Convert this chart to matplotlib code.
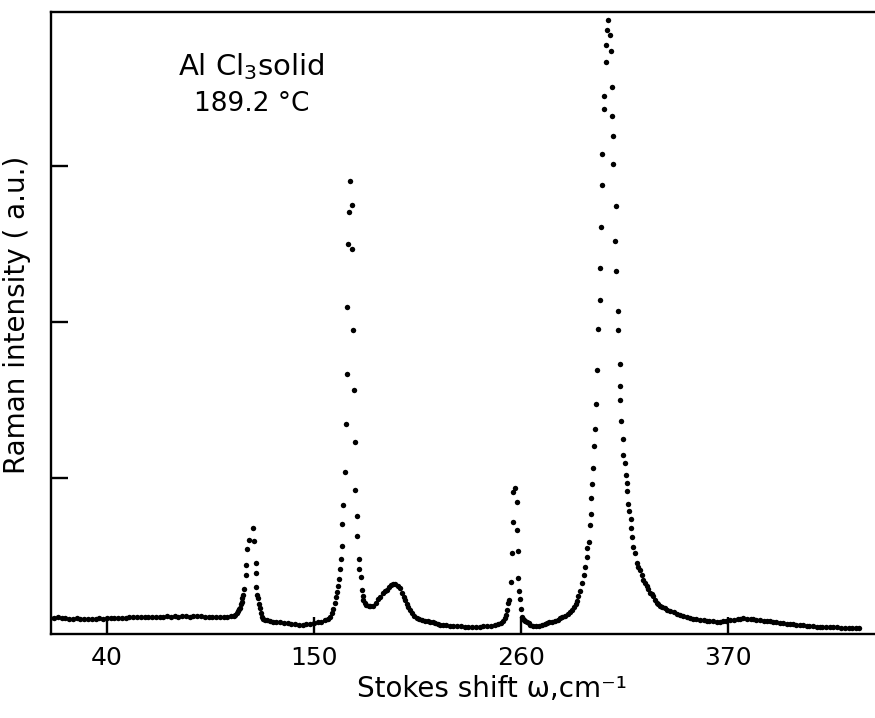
import matplotlib
matplotlib.use("Agg")
import matplotlib.pyplot as plt

# Raman spectrum of solid AlCl3 at 189.2 C
# (shift in cm^-1, intensity in arbitrary units)
baseline_left = [
    (10, 0.105), (12, 0.104), (14, 0.106), (16, 0.103), (18, 0.101),
    (20, 0.099), (22, 0.097), (24, 0.100), (26, 0.098), (28, 0.099),
    (30, 0.097), (32, 0.099), (34, 0.098), (36, 0.100), (38, 0.099),
    (40, 0.101), (42, 0.100), (44, 0.103), (46, 0.104), (48, 0.102),
    (50, 0.104), (52, 0.106), (54, 0.107), (56, 0.108), (58, 0.106),
    (60, 0.109), (62, 0.110), (64, 0.111), (66, 0.109), (68, 0.112),
    (70, 0.110), (72, 0.113), (74, 0.111), (76, 0.114), (78, 0.112),
    (80, 0.113), (82, 0.115), (84, 0.112), (86, 0.114), (88, 0.113),
    (90, 0.115), (92, 0.112), (94, 0.110), (96, 0.111), (98, 0.109),
    (100, 0.110), (102, 0.108), (104, 0.110), (106, 0.114),
]

peak_117 = [
    (107.5, 0.118), (108.3, 0.125), (108.9, 0.132), (109.6, 0.145),
    (110.2, 0.158), (110.7, 0.168), (111.2, 0.190), (111.6, 0.207),
    (112.0, 0.228), (112.4, 0.250), (112.8, 0.288), (113.7, 0.378),
    (113.9, 0.442), (114.5, 0.543), (115.6, 0.603), (117.4, 0.681),
    (118.1, 0.596), (119.0, 0.457), (119.2, 0.393), (119.3, 0.299),
    (120.0, 0.250), (120.4, 0.229), (120.9, 0.195), (121.3, 0.165),
    (121.7, 0.135), (122.2, 0.111), (123.0, 0.098), (124.0, 0.090),
]

valley_140 = [
    (125.0, 0.087), (126.5, 0.084), (128, 0.080), (130, 0.077),
    (132, 0.074), (134, 0.071), (136, 0.068), (138, 0.066), (140, 0.063),
    (142, 0.059), (144, 0.058), (146, 0.061), (148, 0.066), (150, 0.070),
    (152, 0.075), (154, 0.080), (156, 0.088), (157.5, 0.098), (158.5, 0.111),
]

peak_169 = [
    (159.4, 0.133), (160.2, 0.160), (161.1, 0.197), (161.6, 0.235),
    (162.0, 0.271), (162.9, 0.308), (163.4, 0.350), (164.1, 0.415),
    (164.5, 0.479), (164.9, 0.564), (164.9, 0.703), (165.6, 0.827),
    (166.6, 1.040), (167.0, 1.346), (167.3, 1.671), (167.7, 2.098),
    (168.2, 2.500), (168.7, 2.707), (169.1, 2.906), (170.0, 2.750),
    (170.3, 2.470), (170.7, 1.953), (171.2, 1.564), (171.9, 1.229),
    (171.9, 0.923), (172.6, 0.758), (172.6, 0.628), (173.7, 0.483),
    (174.0, 0.419), (174.8, 0.363),
]

bump_192 = [
    (175.3, 0.282), (175.8, 0.245), (176.2, 0.218), (177.0, 0.198),
    (177.9, 0.186), (179.0, 0.180), (180.0, 0.177), (181.5, 0.180),
    (183.0, 0.200), (184.0, 0.222), (185.1, 0.239), (186.5, 0.260),
    (188.0, 0.275), (188.6, 0.282), (190.0, 0.302), (191.0, 0.315),
    (192.1, 0.320), (193.2, 0.318), (194.5, 0.308), (195.7, 0.293),
    (196.8, 0.265), (197.6, 0.240), (198.3, 0.218), (199.2, 0.195),
    (200.1, 0.172), (201.0, 0.154), (202.0, 0.137), (203.2, 0.118),
    (204.6, 0.100), (206.0, 0.094), (207.5, 0.090), (209.0, 0.086),
    (210.5, 0.082), (211.6, 0.079), (213.0, 0.074), (214.5, 0.068),
    (216.0, 0.062), (217.0, 0.058), (218.5, 0.056),
]

valley_235 = [
    (220, 0.055), (222, 0.053), (224, 0.052), (226, 0.050), (228, 0.049),
    (230, 0.048), (232, 0.047), (234, 0.047), (236, 0.046), (238, 0.047),
    (240, 0.049), (242, 0.051), (244, 0.054), (246, 0.057), (248, 0.063),
    (249.5, 0.072), (250.5, 0.083), (251.5, 0.100), (252.0, 0.125),
    (252.4, 0.154), (253.2, 0.197), (253.7, 0.218),
]

peak_257 = [
    (254.7, 0.335), (255.0, 0.517), (255.9, 0.720), (255.6, 0.908),
    (256.8, 0.934), (257.7, 0.848), (257.7, 0.667), (258.5, 0.532),
    (258.5, 0.357), (259.1, 0.278), (259.4, 0.224), (259.8, 0.158),
    (260.3, 0.111), (260.8, 0.098), (261.5, 0.090), (262.3, 0.083),
    (263.0, 0.079), (264.0, 0.068), (265.0, 0.058), (266.5, 0.050),
    (268.0, 0.050), (269.5, 0.053), (271.0, 0.058), (272.5, 0.064),
    (273.6, 0.069), (275.0, 0.074), (276.5, 0.080), (278.0, 0.086),
    (279.5, 0.093), (280.7, 0.100), (282.0, 0.108), (283.5, 0.118),
    (285.0, 0.130), (286.0, 0.140), (287.0, 0.155), (288.0, 0.172),
    (289.0, 0.195), (289.6, 0.212),
]

peak_306 = [
    (290.4, 0.245), (291.2, 0.275), (292.2, 0.325), (293.2, 0.380),
    (294.0, 0.432), (294.9, 0.496), (295.2, 0.549), (296.1, 0.592),
    (296.6, 0.699), (297.0, 0.767), (297.2, 0.870), (297.9, 0.962),
    (298.1, 1.066), (298.8, 1.207), (299.3, 1.318), (299.7, 1.479),
    (300.2, 1.697), (301.1, 1.960), (302.0, 2.141), (302.0, 2.350),
    (302.5, 2.611), (302.9, 2.883), (303.2, 3.079), (304.3, 3.367),
    (304.1, 3.451), (305.0, 3.673), (305.2, 3.782), (305.5, 3.876),
    (306.4, 3.940), (307.3, 3.846), (307.8, 3.744), (308.2, 3.513),
    (308.4, 3.327), (308.9, 3.197), (308.9, 3.015), (310.3, 2.744),
    (310.1, 2.521), (310.5, 2.331), (311.4, 2.071), (311.7, 1.949),
    (312.6, 1.735), (312.6, 1.590), (312.6, 1.500), (313.1, 1.367),
    (314.4, 1.250), (314.4, 1.147), (315.3, 1.100), (315.6, 1.019),
    (316.1, 0.966), (316.4, 0.919), (317.0, 0.833), (317.5, 0.790),
    (318.2, 0.737), (318.5, 0.677), (319.1, 0.624), (319.6, 0.560),
    (320.5, 0.517), (321.4, 0.453), (322.3, 0.430), (323.2, 0.410),
    (324.0, 0.378), (324.9, 0.346), (325.9, 0.325), (326.7, 0.305),
    (327.6, 0.290), (328.5, 0.265), (329.4, 0.255), (330.2, 0.245),
    (331.2, 0.220), (332.1, 0.200), (333.0, 0.190), (333.8, 0.180),
]

tail_right = [
    (335, 0.175), (336.3, 0.165), (337.4, 0.156), (339, 0.148), (341, 0.140),
    (343, 0.131), (344.5, 0.125), (346, 0.118), (348, 0.111), (350, 0.104),
    (351.5, 0.099), (353, 0.095), (355, 0.091), (357, 0.087), (358.6, 0.085),
    (360, 0.083), (362, 0.081), (364, 0.080), (365.7, 0.079), (367, 0.081),
    (369, 0.084), (371, 0.088), (373, 0.092), (375, 0.096), (376.5, 0.098),
    (378.1, 0.100), (380, 0.099), (382, 0.097), (383.3, 0.095), (385, 0.092),
    (387, 0.089), (389, 0.086), (390.5, 0.083), (392, 0.081), (394, 0.078),
    (395.5, 0.075), (397.5, 0.072), (399, 0.070), (401, 0.067), (403, 0.064),
    (404.6, 0.062), (406, 0.060), (408, 0.058), (410, 0.055), (411.7, 0.052),
    (413, 0.051), (415, 0.049), (417, 0.047), (418.8, 0.046), (420, 0.045),
    (422, 0.044), (424, 0.043), (425.9, 0.042), (428, 0.042), (430, 0.041),
    (432, 0.041), (434, 0.040), (436, 0.039), (438, 0.039), (439.5, 0.038),
]

x_ticks = [40, 150, 260, 370]
y_ticks = [1, 2, 3]

segments = [baseline_left, peak_117, valley_140, peak_169, bump_192,
            valley_235, peak_257, peak_306, tail_right]
points = [p for seg in segments for p in seg]
shift = [p[0] for p in points]
intensity = [p[1] for p in points]

plt.rcParams["font.family"] = ["DejaVu Sans"]

fig = plt.figure(figsize=(8.75, 7.18), dpi=100)
ax = fig.add_axes([0.058, 0.117, 0.942, 0.866])

ax.plot(shift, intensity, "o", ms=3.9, color="black", mec="none")

ax.set_xlim(10.2, 448)
ax.set_ylim(0, 3.99)
ax.set_xticks(x_ticks)
ax.set_yticks(y_ticks)
ax.set_yticklabels([])

ax.spines["right"].set_visible(False)
for side in ["left", "bottom", "top"]:
    ax.spines[side].set_linewidth(1.7)
ax.tick_params(direction="in", length=12, width=1.7, labelsize=18, pad=9)
ax.tick_params(axis="y", right=False)
ax.tick_params(axis="x", top=False)

ax.set_xlabel("Stokes shift ω,cm⁻¹", fontsize=20)
ax.xaxis.set_label_coords(0.535, -0.066)
ax.set_ylabel("Raman intensity ( a.u.)", fontsize=20)
ax.yaxis.set_label_coords(-0.024, 0.513)

ax.text(0.244, 0.912, "Al Cl$_3$solid", transform=ax.transAxes,
        ha="center", va="center", fontsize=21)
ax.text(0.244, 0.852, "189.2 °C", transform=ax.transAxes,
        ha="center", va="center", fontsize=19)

fig.savefig("out.png", dpi=100)
